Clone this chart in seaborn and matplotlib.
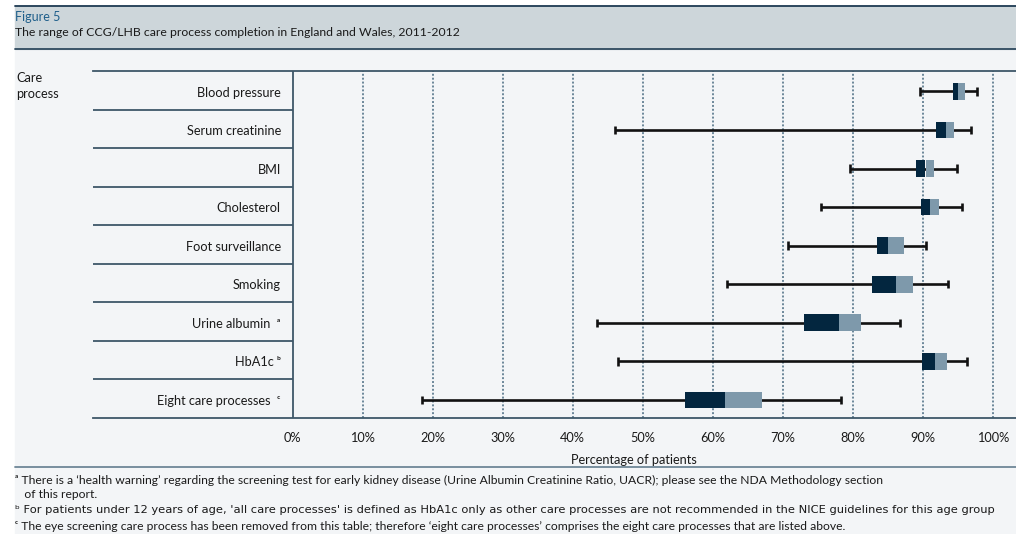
import matplotlib
matplotlib.use("Agg")
import matplotlib.pyplot as plt
import numpy as np
import pandas as pd
import seaborn as sns

# care processes, top to bottom
processes = ["Blood pressure", "Serum creatinine", "BMI", "Cholesterol",
             "Foot surveillance", "Smoking", "Urine albumin", "HbA1c",
             "Eight care processes"]
label_marks = ["", "", "", "", "", "", "  \u1d43", " \u1d47", "  \u1d9c"]

# CCG/LHB completion (%)
lowest = [89.6, 46.1, 79.6, 75.5, 70.7, 62.1, 43.4, 46.5, 18.4]
lower_q = [94.3, 91.9, 89.1, 89.7, 83.4, 82.8, 73.1, 89.9, 56.0]
median = [95.1, 93.3, 90.4, 91.1, 85.1, 86.2, 78.0, 91.8, 61.7]
upper_q = [96.0, 94.4, 91.6, 92.4, 87.3, 88.6, 81.2, 93.5, 67.0]
highest = [97.7, 96.9, 94.9, 95.6, 90.4, 93.6, 86.7, 96.3, 78.3]

tick_values = list(range(0, 101, 10))
tick_labels = [f"{v}%" for v in tick_values]

footnotes = [
    "\u1d43 There is a \u2018health warning\u2019 regarding the screening test for early kidney disease "
    "(Urine Albumin Creatinine Ratio, UACR); please see the NDA Methodology section",
    "   of this report.",
    "\u1d47 For patients under 12 years of age, 'all care processes' is defined as HbA1c only as other "
    "care processes are not recommended in the NICE guidelines for this age group",
    "\u1d9c The eye screening care process has been removed from this table; therefore "
    "\u2018eight care processes\u2019 comprises the eight care processes that are listed above.",
]

df = pd.DataFrame({"process": processes, "lo": lowest, "q1": lower_q,
                   "med": median, "q3": upper_q, "hi": highest})
df["low_part"] = df["med"] - df["q1"]
df["high_part"] = df["q3"] - df["med"]

DARK = "#03263f"
LIGHT = "#7e99ab"
BG = "#f3f5f7"
BAND = "#cdd6da"
RULE = "#3e5769"
GRID = "#6b8799"
TXT = "#1a1a1a"

sns.set_style("white")
plt.rcParams["font.family"] = ["Lato", "DejaVu Sans"]

W, H = 1016, 534
fig = plt.figure(figsize=(W / 100, H / 100), dpi=100)
fig.patch.set_facecolor("white")

# page background and header band
fig.add_artist(plt.Rectangle((15 / W, 0), 1, (H - 49) / H, transform=fig.transFigure,
                             color=BG, zorder=0))
fig.add_artist(plt.Rectangle((15 / W, (H - 49) / H), 1, 43 / H, transform=fig.transFigure,
                             color=BAND, zorder=0))
for yy, c in [(6, "#1e3a52"), (49, "#2f4a5e"), (467, "#6f8797")]:
    fig.add_artist(plt.Line2D([15 / W, 1], [(H - yy) / H] * 2, transform=fig.transFigure,
                              color=c, lw=1.3))

fig.text(15 / W, (H - 17) / H, "Figure 5", color="#1f5f8b", fontsize=9, va="center")
fig.text(15 / W, (H - 33) / H,
         "The range of CCG/LHB care process completion in England and Wales, 2011-2012",
         color=TXT, fontsize=8.85, va="center")
fig.text(16 / W, (H - 78) / H, "Care", color=TXT, fontsize=9.2, va="center")
fig.text(16 / W, (H - 94) / H, "process", color=TXT, fontsize=9.2, va="center")

ax = fig.add_axes([93 / W, 116 / H, (W - 93) / W, 347 / H])
ax.set_facecolor("none")

x_left = -(292.7 - 93) / 7.0
x_right = (W - 292.7) / 7.0

# whiskers
ypos = np.arange(len(processes))
ax.hlines(ypos + 0.03, df["lo"], df["hi"], color="#111111", lw=1.9, zorder=3)
ax.vlines(df["lo"], ypos - 0.08, ypos + 0.14, color="#111111", lw=1.9, zorder=3)
ax.vlines(df["hi"], ypos - 0.08, ypos + 0.14, color="#111111", lw=1.9, zorder=3)

# two-tone boxes: lower quartile to median, median to upper quartile
sns.barplot(data=df, x="low_part", y="process", order=processes, left=df["q1"].values,
            color=DARK, width=0.43, errorbar=None, saturation=1, ax=ax, zorder=4,
            linewidth=0)
sns.barplot(data=df, x="high_part", y="process", order=processes, left=df["med"].values,
            color=LIGHT, width=0.43, errorbar=None, saturation=1, ax=ax, zorder=4,
            linewidth=0)
for p in ax.patches:
    p.set_y(p.get_y() + 0.03)

ax.set_xlim(x_left, x_right)
ax.set_ylim(len(processes) - 0.5, -0.5)

# grid and rules
for v in tick_values[1:]:
    ax.axvline(v, color=GRID, lw=1.4, linestyle=(0, (1, 1)), zorder=1)
ax.axvline(0, color=RULE, lw=1.3, zorder=2)
ax.hlines(ypos[:-1] + 0.5, x_left, 0, color=RULE, lw=1.3, zorder=2)

for side in ["left", "right"]:
    ax.spines[side].set_visible(False)
for side in ["top", "bottom"]:
    ax.spines[side].set_color(RULE)
    ax.spines[side].set_linewidth(1.3)

ax.set_yticks([])
ax.set_ylabel("")
ax.set_xticks(tick_values)
ax.set_xticklabels(tick_labels)
ax.tick_params(axis="x", length=5, width=1.2, color=RULE, labelsize=9.2,
               labelcolor=TXT, pad=5)
ax.set_xlabel("")
ax.text(48.7, -0.12, "Percentage of patients", transform=ax.get_xaxis_transform(),
        fontsize=9.2, color=TXT, ha="center", va="center")

for i, (name, mark) in enumerate(zip(processes, label_marks)):
    ax.text(-1.7, i + 0.06, name + mark, ha="right", va="center", fontsize=9.2, color=TXT)

# footnotes
fig.text(15 / W, (H - 480) / H, footnotes[0], fontsize=8.7, color=TXT, va="center")
fig.text(15 / W, (H - 494) / H, footnotes[1], fontsize=8.7, color=TXT, va="center")
fig.text(15 / W, (H - 510) / H, footnotes[2], fontsize=8.25, color=TXT, va="center",
         family=["DejaVu Sans"])
fig.text(15 / W, (H - 526) / H, footnotes[3], fontsize=8.7, color=TXT, va="center")

fig.savefig("out.png", dpi=100)
